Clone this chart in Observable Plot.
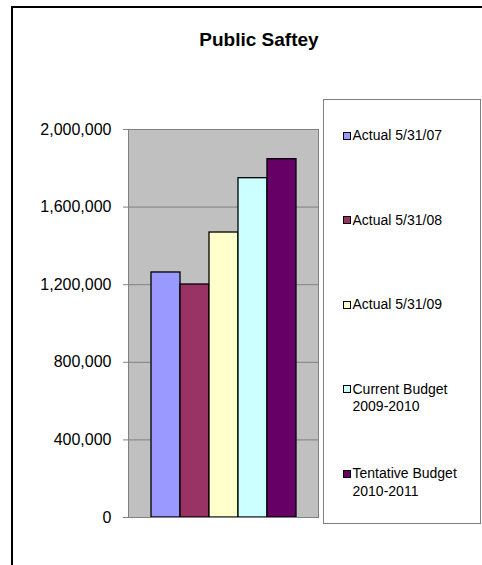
<!DOCTYPE html>
<html><head><meta charset="utf-8">
<script src="https://cdn.jsdelivr.net/npm/d3@7"></script>
<script src="https://cdn.jsdelivr.net/npm/@observablehq/plot@0.6"></script>
<style>
html,body{margin:0;padding:0;background:#fff;overflow:hidden;}
#wrap{position:relative;width:482px;height:565px;overflow:hidden;font-family:"Liberation Sans",Arial,sans-serif;color:#000;}
#border{position:absolute;left:11px;top:6px;width:540px;height:640px;border-left:2px solid #000;border-top:2px solid #000;box-sizing:border-box;}
#title{position:absolute;left:0;top:30px;width:518px;text-align:center;font-weight:bold;font-size:19px;line-height:19px;}
#chart{position:absolute;left:0;top:0;}
#legend{position:absolute;left:323px;top:99px;width:158px;height:425px;border:1px solid #808080;box-sizing:border-box;background:#fff;}
.sw{position:absolute;left:343px;width:8px;height:8px;border:1px solid #000;box-sizing:border-box;}
.lt{position:absolute;left:352.5px;width:124px;font-size:14px;line-height:17.5px;}
</style></head>
<body>
<div id="wrap">
  <div id="border"></div>
  <div id="title"></div>
  <div id="chart"></div>
  <div id="legend"></div>
</div>
<script>
const title = "Public Saftey";
const categories = ["Actual 5/31/07", "Actual 5/31/08", "Actual 5/31/09", "Current Budget 2009-2010", "Tentative Budget 2010-2011"];
const values = [1263000, 1201000, 1469000, 1749000, 1847000];
const colors = ["#9999ff", "#993366", "#ffffcc", "#ccffff", "#660066"];
const yTicks = [0, 400000, 800000, 1200000, 1600000, 2000000];

document.getElementById("title").textContent = title;

const data = categories.map((c, i) => ({category: c, value: values[i]}));

const plot = Plot.plot({
  width: 482,
  height: 565,
  marginLeft: 128,
  marginRight: 164,
  marginTop: 129,
  marginBottom: 48,
  style: {fontFamily: '"Liberation Sans", Arial, sans-serif', fontSize: "16px", background: "transparent", color: "#000", overflow: "visible"},
  x: {domain: categories, range: [151, 296], padding: 0, axis: null},
  y: {domain: [0, 2000000], axis: null},
  color: {domain: categories, range: colors},
  marks: [
    Plot.frame({fill: "#c0c0c0", stroke: null}),
    Plot.gridY(yTicks, {stroke: "#808080", strokeOpacity: 1, strokeWidth: 1}),
    Plot.barY(data, {x: "category", y: "value", fill: "category", stroke: "#000", strokeWidth: 1.3}),
    Plot.frame({stroke: "#808080", strokeWidth: 1}),
    Plot.axisY(yTicks, {tickFormat: d3.format(","), tickSize: 5, tickPadding: 12, stroke: "#808080", fill: "#000", fontSize: 16, label: null})
  ]
});
document.getElementById("chart").appendChild(plot);

const wrap = document.getElementById("wrap");
categories.forEach((c, i) => {
  const sw = document.createElement("div");
  sw.className = "sw";
  sw.style.top = (131.5 + i * 84.6) + "px";
  sw.style.background = colors[i];
  wrap.appendChild(sw);
  const lt = document.createElement("div");
  lt.className = "lt";
  lt.style.top = (127 + i * 84.6) + "px";
  lt.textContent = c;
  wrap.appendChild(lt);
});
</script>
</body></html>
